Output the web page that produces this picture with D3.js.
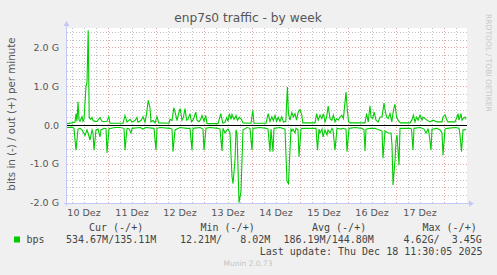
<!DOCTYPE html>
<meta charset="utf-8">
<body style="margin:0;background:#f0f0f0">
<svg width="497" height="275"></svg>
<script src="https://cdn.jsdelivr.net/npm/d3@7/dist/d3.min.js"></script>
<script>
// hours since Dec 10 03:30, value in G bits/min
var outSeries = [
  [0,0.04],[2.5,0.06],[4,0.08],[4.5,0.3],[5,0.1],[5.5,0.6],[6,0.15],[6.5,0.1],[7.5,0.22],[8,0.1],[8.5,0.15],
  [9.5,1.0],[10,1.1],[10.6,2.44],[11.1,0.2],[11.8,0.15],[12.5,0.2],[13,0.12],[14,0.1],[15,0.1],[16.5,0.2],
  [17.5,0.1],[18.5,0.09],[20,0.1],[20.9,0.22],[21.5,0.05],[28,0.05],[29,0.25],[30,0.08],[31.5,0.15],[32.5,0.08],
  [34,0.12],[35,0.2],[35.5,0.08],[37,0.12],[38,0.22],[39,0.08],[39.8,0.3],[40.6,0.64],[41.5,0.45],[42,0.09],
  [43,0.12],[44,0.06],[45,0.22],[45.8,0.06],[51,0.05],[51.5,0.15],[52.5,0.12],[53.4,0.45],[54,0.35],[55,0.12],
  [55.8,0.3],[56.6,0.43],[57.5,0.13],[58.2,0.2],[59,0.43],[59.8,0.13],[60.5,0.15],[61.5,0.3],[62.2,0.09],
  [63.2,0.15],[64.4,0.34],[65,0.13],[66,0.09],[66.8,0.15],[67.5,0.25],[68.5,0.1],[69.4,0.25],[70,0.04],
  [75.5,0.04],[76.9,0.3],[77.9,0.05],[79,0.08],[79.9,0.2],[80.5,0.1],[81.2,0.3],[82,0.15],[82.5,0.28],
  [83.5,0.15],[84.5,0.25],[85.2,0.13],[86.2,0.2],[87.2,0.15],[88,0.06],[92,0.05],[92.9,0.38],[93.5,0.05],
  [99.5,0.05],[100.6,0.3],[101.5,0.1],[102.4,0.22],[103.2,0.12],[104,0.25],[104.8,0.1],[105.6,0.2],[106.5,0.1],
  [107.4,0.22],[108.2,0.08],[109.4,0.1],[110.2,0.98],[110.7,0.3],[111.5,0.13],[112.4,0.33],[113.2,0.21],
  [114,0.3],[114.8,0.13],[115.6,0.34],[116.5,0.4],[117.4,0.26],[117.9,0.06],[124,0.06],[124.8,0.3],
  [125.6,0.13],[126.5,0.26],[127.4,0.17],[128.2,0.3],[129,0.085],[129.8,0.21],[130.6,0.49],[131.5,0.17],
  [132.4,0.13],[133.2,0.26],[134,0.085],[134.8,0.17],[135.6,0.13],[136.5,0.21],[137.4,0.26],[138.2,0.17],
  [139.5,0.85],[140.2,0.38],[140.8,0.085],[141.5,0.06],[149,0.06],[149.8,0.3],[150.6,0.085],[151.5,0.5],
  [152,0.21],[152.8,0.17],[153.6,0.34],[154.5,0.13],[155.6,0.085],[156.5,0.21],[157.5,0.21],[158.5,0.57],
  [159.2,0.34],[159.8,0.21],[160.6,0.17],[161.5,0.3],[162.4,0.085],[163.2,0.38],[164,0.54],[164.8,0.21],
  [165.5,0.13],[166.2,0.085],[166.8,0.06],[171.5,0.06],[172.4,0.13],[173.2,0.26],[174,0.085],[174.8,0.21],
  [175.6,0.13],[176.5,0.26],[177.5,0.13],[178,0.21],[180,0.13],[181.5,0.085],[183,0.13],[185,0.085],
  [187.5,0.085],[188,0.21],[189,0.27],[190,0.13],[190.5,0.085],[194,0.085],[195,0.21],[195.5,0.3],[196,0.13],
  [197,0.3],[197.5,0.13],[198,0.17],[199,0.21],[199.5,0.15]
];
var inSeries = [
  [0,-0.06],[2.5,-0.05],[3.5,-0.08],[4.5,-0.64],[5.5,-0.1],[6.5,-0.08],[7.5,-0.12],[9,-0.26],[10,-0.12],
  [10.5,-0.2],[11.5,-0.38],[12.5,-0.12],[13,-0.2],[13.5,-0.64],[14.5,-0.12],[15.5,-0.1],[16.5,-0.3],[17,-0.12],
  [18.5,-0.08],[19.5,-0.09],[20,-0.71],[21,-0.09],[24,-0.06],[26.5,-0.06],[28.5,-0.08],[29,-0.64],[30,-0.08],
  [31,-0.09],[32,-0.2],[32.5,-0.08],[36.5,-0.06],[38,-0.1],[39.5,-0.06],[43.5,-0.08],[44.5,-0.64],[45,-0.08],
  [46.5,-0.06],[51.5,-0.08],[52.5,-0.1],[53,-0.68],[54,-0.12],[56.5,-0.06],[60,-0.08],[61.5,-0.08],
  [62.5,-0.64],[63,-0.08],[66.5,-0.06],[68,-0.1],[68.5,-0.64],[69.5,-0.08],[71.5,-0.06],[75.5,-0.08],
  [76.5,-0.1],[77.5,-0.66],[78,-0.08],[79,-0.2],[80,-0.12],[80.5,-0.1],[81.5,-0.2],[82.5,-1.32],[83,-1.5],
  [84,-0.9],[84.5,-0.12],[85,-0.2],[86,-1.99],[87,-1.7],[87.5,-0.9],[88,-0.12],[90,-0.06],[91.5,-0.08],
  [92.5,-0.64],[93,-0.08],[96.5,-0.06],[99.5,-0.08],[100.5,-0.1],[101.5,-0.68],[102,-0.1],[103,-0.68],
  [103.5,-0.08],[106.5,-0.06],[109,-0.1],[110,-1.45],[110.75,-1.5],[111.25,-0.9],[112,-0.1],[112.5,-0.15],
  [113,-0.1],[114,-0.2],[114.5,-0.08],[115.5,-0.12],[116,-0.81],[117,-0.1],[117.5,-0.08],[124.5,-0.08],
  [125.25,-0.64],[126,-0.1],[126.5,-0.2],[127.5,-0.1],[128,-0.3],[129,-0.12],[130,-0.25],[130.5,-0.12],
  [131.5,-0.2],[132.5,-0.08],[133,-0.12],[134,-0.64],[135,-0.08],[137,-0.1],[138,-0.08],[139.5,-0.1],
  [140,-0.68],[141,-0.08],[144,-0.06],[147.5,-0.08],[148.5,-0.12],[149,-0.66],[149.5,-0.1],[151.5,-0.08],
  [154,-0.08],[157.5,-0.15],[158,-0.85],[159,-0.15],[160.5,-0.2],[162,-0.2],[162.5,-0.5],[163,-1.54],
  [164,-0.9],[164.5,-0.4],[165,-0.25],[166,-1.03],[166.5,-0.08],[171.5,-0.08],[172.25,-0.1],[173,-0.64],
  [173.5,-0.08],[176.5,-0.06],[178.5,-0.1],[179.5,-0.2],[180.5,-0.1],[181,-0.2],[182,-0.64],[182.5,-0.1],
  [185,-0.08],[186.5,-0.12],[187.5,-0.2],[188,-0.77],[189,-0.1],[190,-0.08],[194,-0.06],[196,-0.08],
  [196.5,-0.25],[197.25,-0.68],[198,-0.12],[199,-0.12],[199.5,-0.1]
];
var xLabels = ["10 Dez","11 Dez","12 Dez","13 Dez","14 Dez","15 Dez","16 Dez","17 Dez"];
var yMajor = [-2, -1, 0, 1, 2];
var yLabels = ["-2.0 G","-1.0 G","0.0","1.0 G","2.0 G"];
var legendHead = ["Cur (-/+)","Min (-/+)","Avg (-/+)","Max (-/+)"];
var legendVals = ["534.67M/135.11M","12.21M/   8.02M","186.19M/144.80M","4.62G/  3.45G"];
var lastUpdate = "Last update: Thu Dec 18 11:30:05 2025";

var start = new Date(2025, 11, 10, 3, 30);
var end = new Date(2025, 11, 18, 11, 30);
function t(h) { return new Date(start.getTime() + h * 3600e3) }

var svg = d3.select('svg')
var pLeft = 67, pRight = 467, pTop = 28, pBottom = 203

var x = d3.scaleTime().domain([start, end]).range([pLeft, pRight])
var y = d3.scaleLinear().domain([-2, 2.5]).range([pBottom, pTop])

svg.append('rect').attr('x', pLeft).attr('y', pTop).attr('width', pRight - pLeft).attr('height', pBottom - pTop).attr('fill', '#fff')

// minor grid
var grid = svg.append('g')
grid.selectAll('line.vm').data(x.ticks(d3.timeHour.every(6))).enter().append('line')
  .attr('x1', d => Math.round(x(d)) + 0.5).attr('x2', d => Math.round(x(d)) + 0.5)
  .attr('y1', pTop).attr('y2', pBottom)
  .attr('stroke', '#c0c0c0').attr('stroke-dasharray', '1,2')
grid.selectAll('line.hm').data(d3.range(-2, 2.41, 0.2)).enter().append('line')
  .attr('y1', d => Math.round(y(d)) + 0.5).attr('y2', d => Math.round(y(d)) + 0.5)
  .attr('x1', pLeft).attr('x2', pRight)
  .attr('stroke', '#c0c0c0').attr('stroke-dasharray', '1,2')
// major grid
grid.selectAll('line.vM').data(d3.timeDay.range(start, end)).enter().append('line')
  .attr('x1', d => Math.round(x(d)) + 0.5).attr('x2', d => Math.round(x(d)) + 0.5)
  .attr('y1', pTop).attr('y2', pBottom)
  .attr('stroke', '#e8a0a0').attr('stroke-dasharray', '1,2')
grid.selectAll('line.hM').data(yMajor).enter().append('line')
  .attr('y1', d => Math.round(y(d)) + 0.5).attr('y2', d => Math.round(y(d)) + 0.5)
  .attr('x1', pLeft).attr('x2', pRight)
  .attr('stroke', '#e8a0a0').attr('stroke-dasharray', '1,2')

var line = d3.line().x(d => x(t(d[0]))).y(d => y(d[1]))
svg.append('path').datum(inSeries).attr('d', line).attr('fill', 'none').attr('stroke', '#00cc00').attr('stroke-width', 1.1)
svg.append('path').datum(outSeries).attr('d', line).attr('fill', 'none').attr('stroke', '#00cc00').attr('stroke-width', 1.1)

// zero line
svg.append('line').attr('x1', pLeft).attr('x2', pRight).attr('y1', Math.round(y(0)) + 0.5).attr('y2', Math.round(y(0)) + 0.5)
  .attr('stroke', '#000')

// axes
var ax = '#c4c8f4'
svg.append('line').attr('x1', pLeft - 0.5).attr('x2', pLeft - 0.5).attr('y1', pBottom + 3).attr('y2', pTop - 4).attr('stroke', ax)
svg.append('line').attr('x1', pLeft - 3).attr('x2', pRight + 3).attr('y1', pBottom + 0.5).attr('y2', pBottom + 0.5).attr('stroke', ax)
svg.append('path').attr('d', 'M' + (pLeft - 3.5) + ',' + (pTop - 2) + 'L' + (pLeft - 0.5) + ',' + (pTop - 7) + 'L' + (pLeft + 2.5) + ',' + (pTop - 2) + 'Z').attr('fill', ax)
svg.append('path').attr('d', 'M' + (pRight + 2) + ',' + (pBottom - 2.5) + 'L' + (pRight + 7) + ',' + (pBottom + 0.5) + 'L' + (pRight + 2) + ',' + (pBottom + 3.5) + 'Z').attr('fill', ax)

var font = 'DejaVu Sans, sans-serif'
svg.selectAll('text.yt').data(yMajor).enter().append('text')
  .attr('x', 59).attr('y', d => y(d)).attr('dy', '0.35em').attr('text-anchor', 'end')
  .attr('font-family', font).attr('font-size', 9.5).attr('fill', '#555')
  .text((d, i) => yLabels[i])

svg.selectAll('text.xt').data(xLabels).enter().append('text')
  .attr('x', (d, i) => x(d3.timeHour.offset(d3.timeDay.offset(new Date(2025, 11, 10), i), 12)))
  .attr('y', 216).attr('text-anchor', 'middle')
  .attr('font-family', font).attr('font-size', 9.5).attr('fill', '#555')
  .text(d => d)

svg.append('text').attr('x', 248).attr('y', 22).attr('text-anchor', 'middle')
  .attr('font-family', font).attr('font-size', 12.2).attr('fill', '#555')
  .text('enp7s0 traffic - by week')

svg.append('text').attr('transform', 'translate(14.5,114) rotate(-90)').attr('text-anchor', 'middle')
  .attr('font-family', font).attr('font-size', 10.3).attr('fill', '#555')
  .text('bits in (-) / out (+) per minute')

svg.append('text').attr('transform', 'translate(486,14) rotate(90)')
  .attr('font-family', font).attr('font-size', 7.6).attr('fill', '#c8c8c8')
  .text('RRDTOOL / TOBI OETIKER')

// legend
var mono = 'DejaVu Sans Mono, monospace'
var headX = [89, 200.5, 312, 422.5]
var valX = [66, 180, 283.5, 403.5]
svg.selectAll('text.lh').data(legendHead).enter().append('text')
  .attr('x', (d, i) => headX[i]).attr('y', 231)
  .attr('font-family', mono).attr('font-size', 10).attr('fill', '#444')
  .style('white-space', 'pre').text(d => d)
svg.selectAll('text.lv').data(legendVals).enter().append('text')
  .attr('x', (d, i) => valX[i]).attr('y', 243)
  .attr('font-family', mono).attr('font-size', 10).attr('fill', '#444')
  .style('white-space', 'pre').text(d => d)
svg.append('rect').attr('x', 14).attr('y', 236.5).attr('width', 6).attr('height', 6).attr('fill', '#00cc00')
svg.append('text').attr('x', 26.5).attr('y', 243)
  .attr('font-family', mono).attr('font-size', 10).attr('fill', '#444').text('bps')
svg.append('text').attr('x', 482.5).attr('y', 255).attr('text-anchor', 'end')
  .attr('font-family', mono).attr('font-size', 10).attr('fill', '#444').text(lastUpdate)
svg.append('text').attr('x', 248).attr('y', 266).attr('text-anchor', 'middle')
  .attr('font-family', font).attr('font-size', 7.5).attr('fill', '#c4c4c4').text('Munin 2.0.73')
</script>
